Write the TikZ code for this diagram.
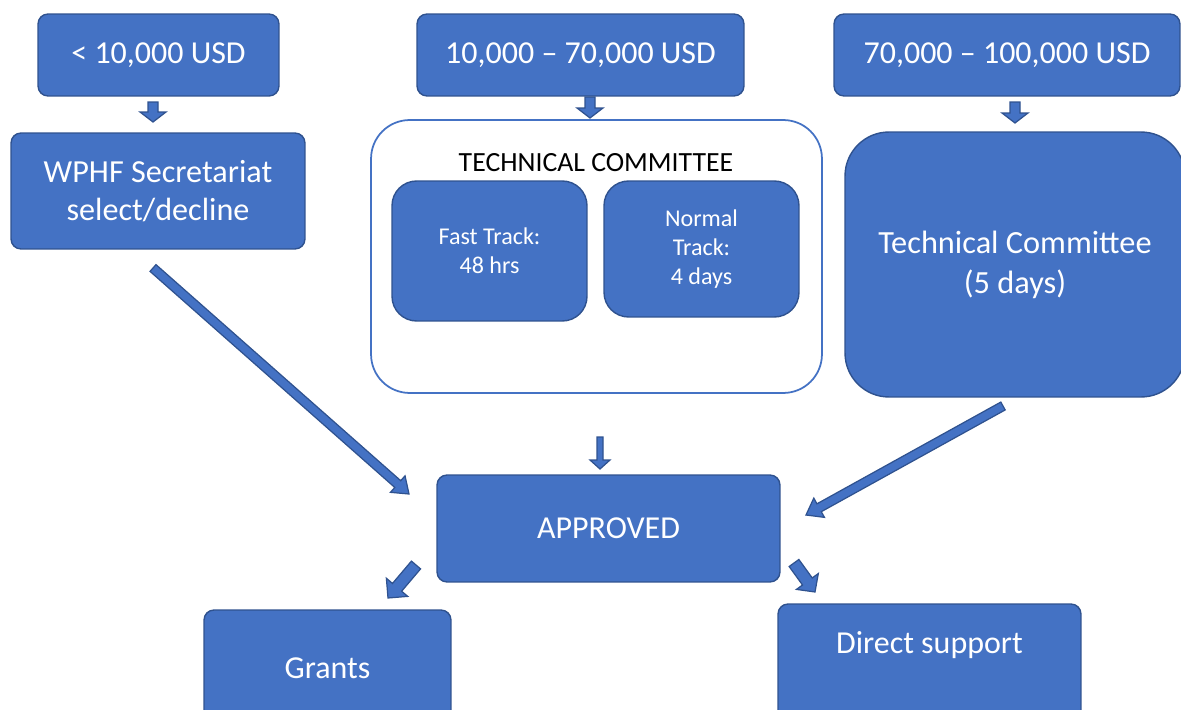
\documentclass[tikz,border=0pt]{standalone}
\usepackage{fontspec}
\setmainfont{Carlito}
\usetikzlibrary{positioning,calc}

\definecolor{boxblue}{HTML}{4472C4}
\definecolor{edgeblue}{HTML}{2F528F}

\tikzset{
  stage/.style={rectangle, rounded corners=5.7pt, fill=boxblue, draw=edgeblue,
    line width=0.8pt, text=white, align=center, inner sep=0pt},
  arrowblk/.style={fill=boxblue, draw=edgeblue, line width=0.7pt, line join=miter},
}

% block arrow: from, to, half shaft, half head, head length
\newcommand\fatarrow[5]{%
  \coordinate (fa-h) at ($(#2)!#5!(#1)$);
  \filldraw[arrowblk] ($(#1)!#3!90:(#2)$) -- ($(fa-h)!#3!90:(#2)$)
    -- ($(fa-h)!#4!90:(#2)$) -- (#2) -- ($(fa-h)!#4!-90:(#2)$)
    -- ($(fa-h)!#3!-90:(#2)$) -- ($(#1)!#3!-90:(#2)$) -- cycle;
}

\begin{document}
\begin{tikzpicture}[x=0.02cm, y=-0.02cm]
  \clip (0,0) rectangle (1181,710);

  % amounts
  \node[stage, minimum width=4.82cm, minimum height=1.64cm, font=\fontsize{18.2}{22}\selectfont]
    (low) at (158.5,55) {< 10,000 USD};
  \node[stage, minimum width=6.54cm, minimum height=1.64cm, font=\fontsize{18.2}{22}\selectfont]
    (mid) at (580.5,55) {10,000 – 70,000 USD};
  \node[stage, minimum width=6.92cm, minimum height=1.64cm, font=\fontsize{18.2}{22}\selectfont]
    (high) at (1007,55) {70,000 – 100,000 USD};

  % reviewers
  \node[stage, minimum width=5.88cm, minimum height=2.32cm, font=\fontsize{18.3}{22}\selectfont]
    (secr) at (158,191) {WPHF Secretariat\\select/decline};
  \node[rectangle, rounded corners=22pt, fill=white, draw=boxblue, line width=1pt,
    minimum width=9.02cm, minimum height=5.46cm] (tcbox) at (596.5,256.5) {};
  \node[font=\fontsize{15.8}{18}\selectfont] (tctitle) at (596,163) {TECHNICAL COMMITTEE};
  \node[stage, rounded corners=14pt, minimum width=3.9cm, minimum height=2.8cm,
    font=\fontsize{13.7}{16.4}\selectfont] (fast) at (489.5,251) {Fast Track:\\48 hrs};
  \node[stage, rounded corners=14pt, minimum width=3.9cm, minimum height=2.72cm,
    font=\fontsize{13.7}{16.4}\selectfont] (normal) at (701.5,249) {Normal\\Track:\\4 days};
  \node[stage, rounded corners=25pt, minimum width=6.8cm, minimum height=5.3cm,
    font=\fontsize{18.4}{22.7}\selectfont] (tc) at (1015,264.5) {Technical Committee\\(5 days)};

  % outcome
  \node[stage, minimum width=6.86cm, minimum height=2.14cm, font=\fontsize{18.2}{22}\selectfont]
    (appr) at (608.5,528.5) {APPROVED};
  \node[stage, minimum width=4.94cm, minimum height=2.32cm, font=\fontsize{18.2}{22}\selectfont]
    (grants) at (327.5,668) {Grants};
  \node[stage, minimum width=6.06cm, minimum height=2.48cm, text height=0.5cm, text depth=1.02cm,
    font=\fontsize{18.2}{22}\selectfont] (direct) at (929.5,666) {Direct support};

  % arrow ends
  \coordinate (lowA) at (153,102);   \coordinate (lowB) at (153,122);
  \coordinate (midA) at (590,97);    \coordinate (midB) at (590,118);
  \coordinate (highA) at (1015,102); \coordinate (highB) at (1015,123);
  \coordinate (secrA) at (153,268);  \coordinate (secrB) at (409,494);
  \coordinate (tcboxA) at (600,437); \coordinate (tcboxB) at (600,469);
  \coordinate (tcA) at (1003,406);   \coordinate (tcB) at (806,515);
  \coordinate (grantsA) at (416,565); \coordinate (grantsB) at (388,598);
  \coordinate (directA) at (794,563); \coordinate (directB) at (815,592);

  \fatarrow{lowA}{lowB}{0.1cm}{0.26cm}{0.2cm}
  \fatarrow{midA}{midB}{0.1cm}{0.26cm}{0.2cm}
  \fatarrow{highA}{highB}{0.1cm}{0.26cm}{0.2cm}
  \fatarrow{secrA}{secrB}{0.09cm}{0.22cm}{0.3cm}
  \fatarrow{tcboxA}{tcboxB}{0.06cm}{0.2cm}{0.18cm}
  \fatarrow{tcA}{tcB}{0.09cm}{0.22cm}{0.3cm}
  \fatarrow{grantsA}{grantsB}{0.12cm}{0.28cm}{0.28cm}
  \fatarrow{directA}{directB}{0.12cm}{0.27cm}{0.26cm}
\end{tikzpicture}
\end{document}
